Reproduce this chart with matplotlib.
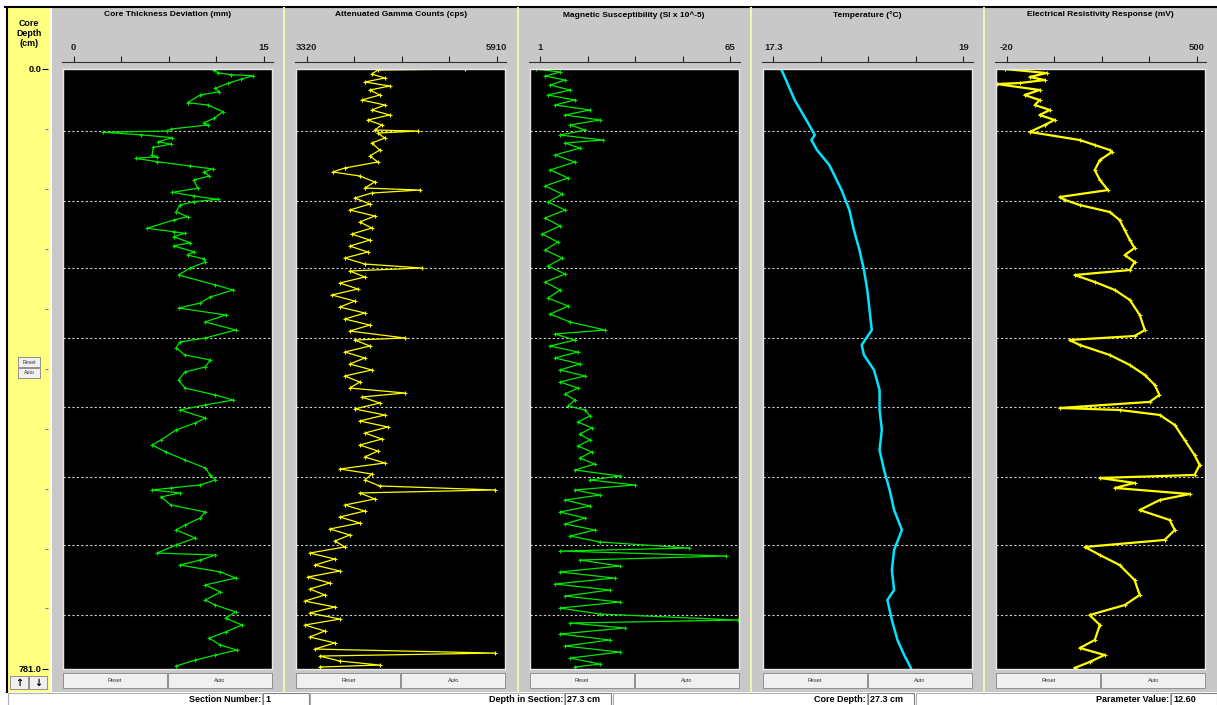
import matplotlib.pyplot as plt
from matplotlib.patches import Rectangle

# core depth scale (cm) and section boundaries
core_top = 0.0
core_bottom = 781.0
section_breaks = [82, 172, 260, 351, 441, 532, 620, 711]

# tracks: title, axis range and end tick labels
titles = ['Core Thickness Deviation (mm)', 'Attenuated Gamma Counts (cps)',
          'Magnetic Susceptibility (SI x 10^-5)', 'Temperature (°C)',
          'Electrical Resistivity Response (mV)']
range_lo = [0, 3320, 1, 17.3, -20]
range_hi = [15, 5910, 65, 19, 500]
lo_labels = ['0', '3320', '1', '17.3', '-20']
hi_labels = ['15', '5910', '65', '19', '500']

# core thickness deviation (mm)
thick_depth = [2.0, 5.5, 8.1, 9.4, 14.1, 19.3, 25.9, 30.2, 34.5, 44.5,
               47.5, 56.2, 64.8, 70.6, 73.5, 78.8, 81.4, 83.0, 86.2, 90.1,
               95.3, 98.4, 102.7, 112.6, 114.8, 116.9, 121.3, 126.9, 130.9, 134.3,
               139.9, 145.1, 155.9, 161.1, 166.0, 170.3, 173.4, 177.7, 186.4, 192.9,
               197.2, 208.0, 212.4, 214.5, 218.9, 226.8, 231.0, 238.5, 242.8, 248.0,
               251.9, 259.7, 268.8, 281.8, 288.3, 297.4, 305.3, 311.8, 320.8, 329.9,
               340.4, 350.8, 356.0, 363.8, 372.9, 379.4, 388.5, 395.0, 405.4, 415.9,
               425.0, 431.5, 438.0, 444.5, 454.9, 461.4, 470.5, 483.5, 490.1, 499.2,
               509.6, 520.0, 529.1, 535.6, 542.1, 546.0, 548.6, 552.5, 557.7, 568.2,
               577.3, 585.1, 594.2, 600.7, 611.1, 620.2, 630.7, 633.3, 639.8, 646.3,
               655.4, 663.2, 672.3, 681.4, 691.8, 698.4, 707.5, 715.3, 724.4, 733.5,
               741.4, 750.4, 757.0, 763.5, 770.0, 777.8]
thick_value = [11.1, 11.4, 12.4, 14.2, 13.2, 12.2, 11.2, 11.5, 10.0, 9.0,
               10.6, 11.8, 11.1, 10.3, 10.6, 7.7, 7.4, 2.3, 5.3, 7.8,
               6.7, 7.7, 6.3, 6.2, 6.6, 4.9, 6.6, 9.2, 11.0, 10.3,
               10.7, 9.5, 9.8, 7.8, 9.5, 11.4, 9.5, 8.4, 8.1, 9.0,
               7.9, 5.8, 7.9, 8.8, 7.9, 9.2, 7.9, 9.5, 9.0, 10.3,
               10.4, 9.2, 8.3, 11.2, 12.6, 10.8, 10.0, 8.3, 12.0, 10.4,
               12.8, 10.4, 8.4, 8.1, 8.8, 10.8, 10.4, 8.8, 8.3, 8.8,
               11.2, 12.6, 10.4, 8.4, 10.4, 9.6, 8.1, 6.9, 6.2, 7.3,
               8.8, 10.4, 10.8, 11.2, 10.0, 7.7, 6.2, 8.4, 6.9, 7.7,
               10.4, 10.0, 8.8, 8.1, 9.6, 8.1, 6.6, 11.2, 10.0, 8.4,
               11.6, 12.8, 10.4, 11.6, 10.4, 11.2, 12.8, 12.0, 13.3, 12.0,
               10.7, 11.6, 12.9, 11.2, 9.6, 8.1]

# attenuated gamma counts (cps)
gamma_depth = [0.7, 2.0, 7.2, 12.4, 17.6, 22.8, 28.0, 34.5, 41.0, 47.5, 54.0, 60.5, 67.0, 73.5,
               80.1, 81.4, 84.0, 90.5, 97.0, 106.1, 113.9, 121.7, 129.5, 134.7, 139.9, 147.7,
               155.6, 158.2, 162.1, 168.6, 176.4, 184.2, 192.0, 199.8, 207.6, 215.5, 223.3,
               231.1, 238.9, 246.7, 254.5, 259.7, 263.6, 271.4, 279.2, 287.0, 294.8, 302.7,
               310.5, 318.3, 326.1, 333.9, 341.7, 350.8, 353.4, 361.2, 369.0, 376.8, 384.6,
               392.4, 400.2, 408.1, 415.9, 422.4, 427.6, 435.4, 443.2, 451.0, 458.8, 466.6,
               474.5, 482.3, 490.1, 497.9, 505.7, 513.5, 521.3, 527.8, 535.6, 543.4, 548.6,
               552.5, 560.3, 568.2, 576.0, 583.8, 591.6, 599.4, 607.2, 615.0, 622.8, 630.7,
               638.5, 646.3, 654.1, 661.9, 669.7, 677.5, 685.3, 693.2, 701.0, 708.8, 716.6,
               724.4, 732.2, 740.0, 747.8, 755.7, 760.9, 764.8, 771.3, 776.5, 779.1]
gamma_value = [5474, 4288, 4206, 4383, 4111, 4451, 4179, 4315, 4070, 4383, 4206, 4451, 4151, 4342,
               4247, 4833, 4288, 4383, 4206, 4315, 4179, 4288, 3838, 3674, 4042, 4247,
               4111, 4860, 4206, 3974, 4179, 3906, 4247, 4042, 4206, 3933, 4179,
               3906, 4151, 3838, 4111, 4888, 3906, 4111, 3770, 4015, 3661, 3974,
               3770, 4111, 3838, 4179, 3906, 4656, 3974, 4179, 3838, 4111, 3906,
               4206, 3838, 4042, 3906, 4656, 4070, 4315, 3974, 4383, 4042, 4424,
               4111, 4342, 4042, 4288, 4111, 4383, 3770, 4206, 4111, 4315, 5882,
               4042, 4247, 3838, 4111, 3770, 4042, 3633, 3906, 3702, 3838, 3361,
               3702, 3429, 3770, 3334, 3633, 3361, 3565, 3293, 3702, 3361, 3770,
               3293, 3565, 3361, 3702, 3429, 5882, 3497, 3770, 4315, 3497]

# magnetic susceptibility (SI x 10^-5)
mag_depth = [0.7, 4.6, 9.8, 15.0, 21.5, 28.0, 34.5, 41.0, 47.5, 54.0, 60.5, 67.0, 73.5, 80.1,
             86.6, 93.1, 97.0, 103.5, 112.6, 121.7, 132.1, 142.5, 152.9, 163.4, 173.8, 184.2,
             194.6, 205.0, 215.5, 225.9, 236.3, 246.7, 257.1, 267.5, 278.0, 288.3, 298.8,
             309.2, 319.6, 330.0, 340.4, 345.6, 353.4, 361.2, 369.0, 376.8, 384.6, 392.4,
             400.2, 408.1, 415.9, 423.7, 431.5, 439.3, 444.5, 452.3, 460.1, 467.9, 475.8,
             483.6, 491.4, 499.2, 507.0, 514.8, 522.6, 530.4, 535.6, 542.1, 548.6, 555.2,
             561.7, 569.5, 577.3, 585.1, 592.9, 600.7, 608.5, 616.3, 624.2, 628.1, 634.6,
             639.8, 647.6, 655.4, 663.2, 671.0, 678.8, 686.7, 694.5, 702.3, 710.1, 717.9,
             721.8, 728.3, 736.1, 743.9, 751.7, 759.6, 767.4, 775.2, 779.1]
mag_value = [-0.5, 7.7, 2.7, 9.4, 4.4, 11.1, 3.7, 12.7, 6.0, 17.8, 9.4, 21.1, 11.1, 16.1,
             7.7, 22.1, 9.4, 14.4, 6.0, 12.7, 4.4, 10.4, 2.7, 8.4, 3.7, 9.4,
             2.7, 7.7, 1.7, 7.0, 2.7, 8.4, 3.7, 9.4, 2.7, 7.7, 3.7,
             10.4, 4.4, 11.1, 22.8, 6.0, 12.7, 4.4, 13.7, 6.0, 14.4, 7.7,
             16.1, 7.7, 13.7, 9.4, 12.7, 10.4, 16.1, 17.8, 13.7, 18.4, 14.4,
             17.8, 13.7, 18.4, 14.4, 19.4, 12.7, 27.8, 17.8, 32.8, 12.7, 21.1,
             9.4, 17.8, 7.7, 16.1, 9.4, 19.4, 11.1, 21.1, 51.3, 7.7, 63.7,
             14.4, 27.8, 7.7, 26.1, 6.0, 24.5, 9.4, 27.8, 7.7, 21.1, 67.7,
             11.1, 29.5, 7.7, 24.5, 9.4, 27.8, 11.1, 21.1, 12.7]

# temperature (deg C)
temp_depth = [0.7, 41.0, 73.5, 86.6, 93.1, 106.1, 125.6, 158.2, 184.2, 210.2, 236.3, 262.3,
              288.3, 314.4, 340.4, 359.9, 372.9, 392.4, 418.5, 444.5, 470.5, 496.6, 522.6,
              548.6, 574.7, 600.7, 626.7, 652.8, 678.8, 691.8, 717.9, 743.9, 763.4, 780.3]
temp_value = [17.37, 17.49, 17.62, 17.67, 17.64, 17.69, 17.80, 17.91, 17.98, 18.02, 18.07, 18.11,
              18.14, 18.16, 18.18, 18.09, 18.11, 18.20, 18.25, 18.25, 18.27, 18.25, 18.29,
              18.34, 18.38, 18.45, 18.38, 18.36, 18.38, 18.32, 18.36, 18.41, 18.47, 18.53]

# electrical resistivity response (mV)
res_depth = [0.7, 5.9, 11.1, 15.0, 18.9, 20.2, 28.0, 34.5, 41.0, 47.5, 54.0, 60.5, 67.0, 73.5,
             82.6, 93.1, 99.6, 106.1, 108.7, 119.1, 132.1, 145.1, 158.2, 167.3, 171.2, 177.7,
             186.8, 197.2, 210.2, 223.3, 233.6, 242.8, 251.9, 262.3, 268.8, 277.9, 288.3,
             301.3, 320.8, 340.4, 348.2, 353.4, 359.9, 372.9, 385.9, 398.9, 411.9, 424.9,
             434.0, 441.9, 444.5, 451.0, 464.0, 483.5, 503.1, 516.1, 529.1, 533.0, 539.5,
             546.0, 553.9, 561.7, 574.7, 587.7, 600.7, 613.7, 622.8, 633.3, 646.3, 665.8,
             685.3, 698.4, 711.4, 724.4, 743.9, 754.3, 763.4, 772.5, 780.3]
res_value = [-25, 89, 43, 84, 16, -47, 70, 29, 70, 57, 98, 70, 111, 84,
             43, 180, 221, 262, 268, 235, 221, 235, 257, 125, 140, 180,
             262, 289, 303, 317, 330, 303, 330, 317, 166, 221, 276,
             317, 344, 358, 330, 152, 180, 262, 317, 358, 385, 398,
             371, 125, 289, 399, 440, 467, 494, 508, 494, 235, 330,
             276, 481, 399, 344, 426, 440, 412, 194, 235, 289, 330,
             344, 303, 207, 235, 221, 180, 248, 207, 166]

track_depth = [thick_depth, gamma_depth, mag_depth, temp_depth, res_depth]
track_value = [thick_value, gamma_value, mag_value, temp_value, res_value]
track_color = ['#00E600', '#FFFF00', '#00E600', '#00E5FF', '#FFFF00']
track_marker = ['+', '+', '+', None, '+']

W, H = 1217, 705
GRAY = '#C8C8C8'
BUTTON = '#F0F0F0'
FONT = 'Liberation Sans'


def box(x0, y0, x1, y1):
    # pixel box (top-left origin) -> figure fraction rect
    return [x0 / W, 1 - y1 / H, (x1 - x0) / W, (y1 - y0) / H]


fig = plt.figure(figsize=(W / 100, H / 100), dpi=100, facecolor='white')

# window chrome drawn in pixel coordinates
bg = fig.add_axes([0, 0, 1, 1])
bg.set_xlim(0, W)
bg.set_ylim(H, 0)
bg.axis('off')

bg.add_patch(Rectangle((52, 8), W - 52, 684, color=GRAY, lw=0))
bg.add_patch(Rectangle((8, 8), 42, 684, color='#FFFF80', lw=0))
bg.plot([51, 51], [8, 692], color='#FFFFE0', lw=1.5)
bg.plot([5, W], [7, 7], color='black', lw=1.5)
bg.plot([6.5, 6.5], [7, 692], color='black', lw=1.5)
for i in range(1, 5):
    xs = 51 + 233.3 * i
    bg.plot([xs, xs], [8, 692], color='#F4F4B0', lw=1.5)

# depth header and buttons of the left strip
bg.text(29, 24, 'Core', ha='center', va='center', fontsize=6.4, fontweight='bold', family=FONT)
bg.text(29, 33, 'Depth', ha='center', va='center', fontsize=6.4, fontweight='bold', family=FONT)
bg.text(29, 43, '(cm)', ha='center', va='center', fontsize=6.4, fontweight='bold', family=FONT)
for y0, label in [(357, 'Reset'), (368, 'Auto')]:
    bg.add_patch(Rectangle((18, y0), 22, 10, facecolor=BUTTON, edgecolor='#808080', lw=0.6))
    bg.text(29, y0 + 5, label, ha='center', va='center', fontsize=3.8, family=FONT, color='#333333')
for x0, arrow in [(10, '↑'), (29, '↓')]:
    bg.add_patch(Rectangle((x0, 676), 18, 13, facecolor=BUTTON, edgecolor='#808080', lw=0.6))
    bg.text(x0 + 9, 682.5, arrow, ha='center', va='center', fontsize=7, fontweight='bold',
            family='DejaVu Sans')

# status bar
labels = ['Section Number:', 'Depth in Section:', 'Core Depth:', 'Parameter Value:']
values = ['1', '27.3 cm', '27.3 cm', '12.60']
starts = [8, 310, 613, 916]
for x0, lab, val in zip(starts, labels, values):
    bg.add_patch(Rectangle((x0, 693), 254, 14, facecolor='white', edgecolor='#B0B0B0', lw=0.8))
    bg.add_patch(Rectangle((x0 + 255, 693), 46, 14, facecolor='white', edgecolor='#808080', lw=0.8))
    bg.text(x0 + 253, 699.5, lab, ha='right', va='center', fontsize=6.5, fontweight='bold', family=FONT)
    bg.text(x0 + 257, 699.5, val, ha='left', va='center', fontsize=6.5, fontweight='bold', family=FONT)

# depth axis labels on the yellow strip
dax = fig.add_axes(box(48, 68.5, 48.5, 668.5))
dax.set_ylim(core_bottom, core_top)
dax.set_xticks([])
for s in dax.spines.values():
    s.set_visible(False)
dax.set_yticks([core_top, core_bottom])
dax.set_yticklabels(['%.1f' % core_top, '%.1f' % core_bottom])
dax.set_yticks([core_bottom * k / 10 for k in range(1, 10)], minor=True)
dax.tick_params(axis='y', which='major', length=4, width=0.8, pad=1, labelsize=6.6)
dax.tick_params(axis='y', which='minor', length=2, width=0.8, color='#808080')
for t in dax.get_yticklabels():
    t.set_fontweight('bold')
    t.set_family(FONT)
dax.patch.set_alpha(0)

for i in range(5):
    left = 63 + 233.3 * i
    lo, hi = range_lo[i], range_hi[i]
    s = (hi - lo) / 190.0

    ax = fig.add_axes(box(left, 68.5, left + 209, 668.5))
    ax.set_facecolor('black')
    ax.set_xlim(lo - 10.5 * s, hi + 8.5 * s)
    ax.set_ylim(core_bottom, core_top)
    ax.set_xticks([])
    ax.set_yticks([])
    for sp in ax.spines.values():
        sp.set_color('#E8E8E8')
        sp.set_linewidth(1)
    for d in section_breaks:
        ax.axhline(d, color='#D0D0D0', lw=0.8, ls=(0, (2, 2)))
    if track_marker[i] is None:
        ax.plot(track_value[i], track_depth[i], color=track_color[i], lw=1.8)
    else:
        lw = 1.6 if i == 4 else 0.9
        ax.plot(track_value[i], track_depth[i], color=track_color[i], lw=lw,
                marker='+', ms=3, mew=0.8)

    # top scale with end labels
    tax = fig.add_axes(box(left - 1, 61.5, left + 210, 62.5))
    tax.set_xlim(lo - 11.5 * s, hi + 9.5 * s)
    tax.set_yticks([])
    for name, sp in tax.spines.items():
        sp.set_visible(name == 'top')
    tax.spines['top'].set_color('#303030')
    tax.patch.set_alpha(0)
    tax.xaxis.tick_top()
    tax.set_xticks([lo + (hi - lo) * k / 4 for k in range(5)])
    tax.set_xticklabels([lo_labels[i], '', '', '', hi_labels[i]])
    tax.tick_params(axis='x', length=4, width=0.8, pad=3, labelsize=6.8, colors='#202020')
    for t in tax.get_xticklabels():
        t.set_fontweight('bold')
        t.set_family(FONT)

    bg.text(left + 104.5, 15, titles[i], ha='center', va='center', fontsize=6.0,
            fontweight='bold', family=FONT)

    # Reset / Auto buttons under each track
    for x0, label in [(left, 'Reset'), (left + 105, 'Auto')]:
        bg.add_patch(Rectangle((x0, 673), 104, 15, facecolor=BUTTON, edgecolor='#909090', lw=0.7))
        bg.text(x0 + 52, 680.5, label, ha='center', va='center', fontsize=4, family=FONT,
                color='#333333')

fig.savefig('out.png', dpi=100, facecolor='white')
